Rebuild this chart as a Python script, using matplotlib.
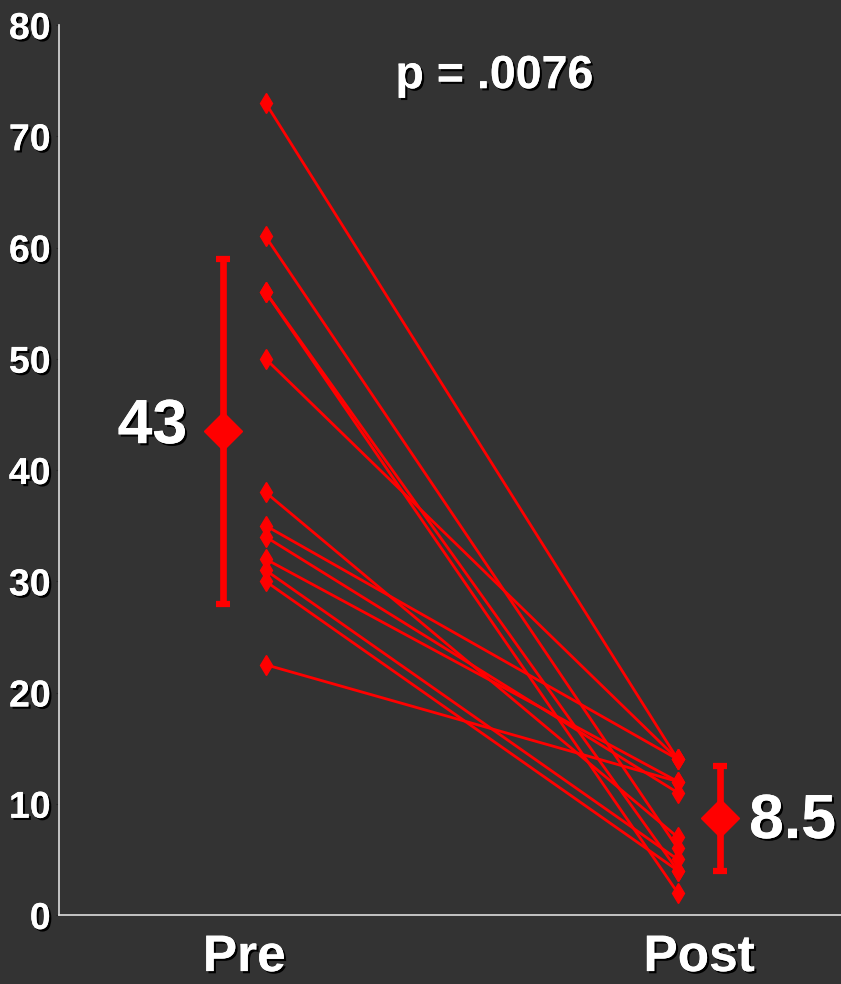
import numpy as np
import matplotlib.pyplot as plt
import matplotlib.patheffects as pe

# 数据
pre_vals = [73, 61, 56, 56, 50, 38, 35, 34, 32, 31, 30, 22.5]
post_vals = [14, 6, 2, 4, 14, 7, 14, 11, 12, 5, 4, 12]
groups = ['Pre', 'Post']
group_means = [43.5, 8.7]
group_err = [15.5, 4.7]
mean_labels = ['43', '8.5']
p_text = 'p = .0076'

bg = '#333333'
red = '#ff0000'
shadow = [pe.withSimplePatchShadow(offset=(1.6, -1.6), shadow_rgbFace='black', alpha=1.0), pe.Normal()]

plt.rcParams['font.family'] = ['Liberation Sans', 'DejaVu Sans']
plt.rcParams['font.weight'] = 'bold'

fig = plt.figure(figsize=(8.41, 9.84), dpi=100, facecolor=bg)
ax = fig.add_axes([59 / 841, 69 / 984, 782 / 841, 890 / 984])
ax.set_facecolor(bg)

cat_x = np.arange(len(groups))
off = 0.047
pt_x = [cat_x[0] + off, cat_x[1] - off]
mean_x = [cat_x[0] - off, cat_x[1] + off]

# 配对连线
for a, b in zip(pre_vals, post_vals):
    ax.plot(pt_x, [a, b], color=red, lw=2.0, marker='d', ms=10,
            markeredgecolor=red, markerfacecolor=red, zorder=3)

# 均值和误差棒
ax.errorbar(mean_x, group_means, yerr=group_err, fmt='D', color=red, ms=19,
            elinewidth=4.8, capsize=4.8, capthick=4.5, zorder=4)

# 均值标签
ax.text(mean_x[0] - 0.078, group_means[0] + 0.4, mean_labels[0], ha='right', va='center',
        fontsize=45, fontweight='bold', color='white', path_effects=shadow)
ax.text(mean_x[1] + 0.063, group_means[1] - 0.3, mean_labels[1], ha='left', va='center',
        fontsize=45, fontweight='bold', color='white', path_effects=shadow)

ax.text(0.55, 75.4, p_text, ha='center', va='center', fontsize=33.5,
        fontweight='bold', color='white', path_effects=shadow)

ax.set_xlim(-0.407, 1.312)
ax.set_ylim(0, 80)
ax.set_yticks(np.arange(0, 81, 10))
ax.set_xticks(cat_x)
ax.set_xticklabels(groups)

for s in ['top', 'right']:
    ax.spines[s].set_visible(False)
for s in ['left', 'bottom']:
    ax.spines[s].set_color('#dddddd')
    ax.spines[s].set_linewidth(1.2)

ax.tick_params(axis='y', length=2, pad=4, color='#222222', labelsize=27, labelcolor='white')
ax.tick_params(axis='x', length=0, pad=13, labelsize=37, labelcolor='white')
for lab in ax.get_xticklabels() + ax.get_yticklabels():
    lab.set_fontweight('bold')
    lab.set_path_effects(shadow)

fig.savefig('out.png', dpi=100, facecolor=bg)
